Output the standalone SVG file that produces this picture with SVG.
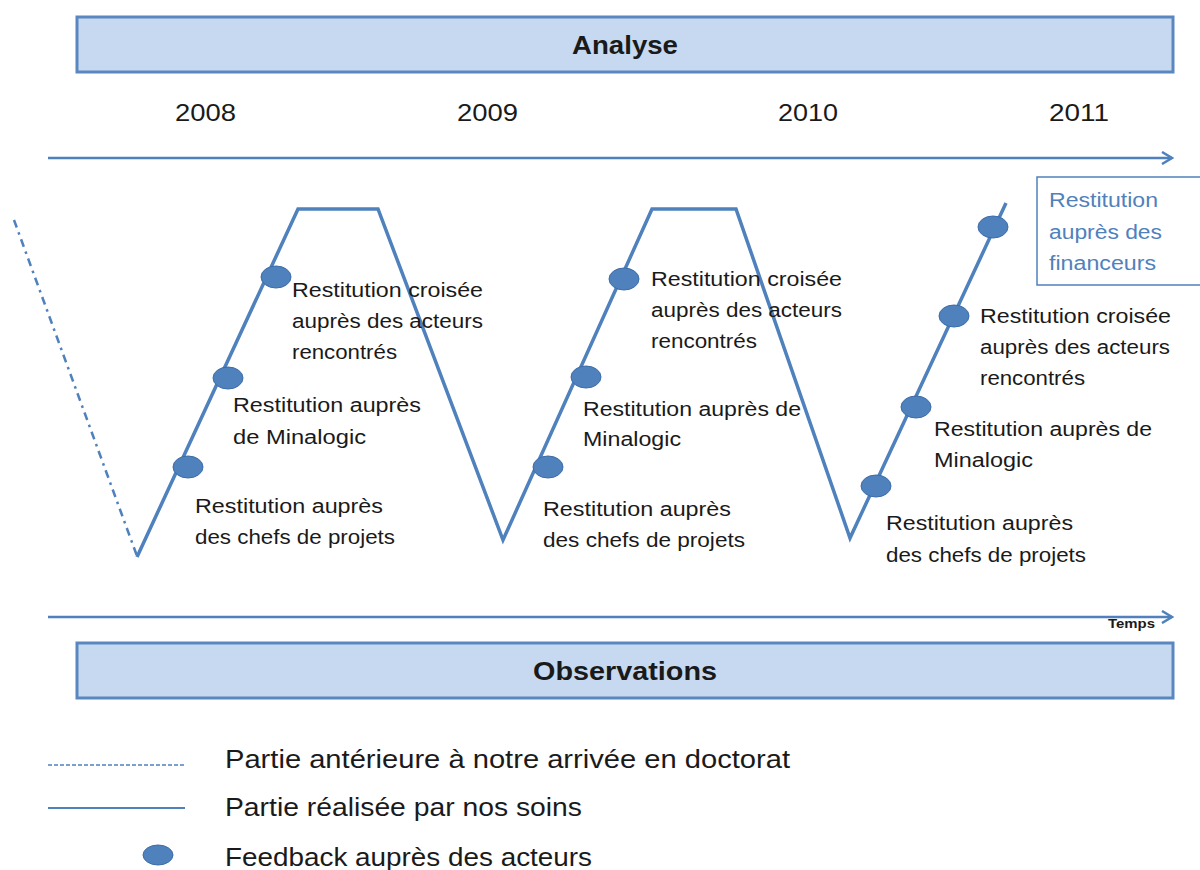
<svg xmlns="http://www.w3.org/2000/svg" width="1200" height="870" viewBox="0 0 1200 870">
<defs>
<style>
.band{fill:#c6d9f0;stroke:#5b87c0;stroke-width:3}
.title{font-family:"Liberation Sans",Arial,sans-serif;font-weight:bold;font-size:26px;fill:#1a1a1a}
.year{font-family:"Liberation Sans",Arial,sans-serif;font-size:23px;fill:#1a1a1a}
.lbl{font-family:"Liberation Sans",Arial,sans-serif;font-size:20px;fill:#1a1a1a}
.blue{font-family:"Liberation Sans",Arial,sans-serif;font-size:20px;fill:#4f81bd}
.leg{font-family:"Liberation Sans",Arial,sans-serif;font-size:25px;fill:#1a1a1a}
.axis{stroke:#4f81bd;stroke-width:2.5;fill:none}
.path{stroke:#4f81bd;stroke-width:3.5;fill:none;stroke-linejoin:miter}
.dot{fill:#4f81bd;stroke:#3c6ca8;stroke-width:1}
</style>
<marker id="arr" markerWidth="14" markerHeight="14" refX="12" refY="7" orient="auto" markerUnits="userSpaceOnUse">
<path d="M2,1 L12,7 L2,13" fill="none" stroke="#4f81bd" stroke-width="2.5"/>
</marker>
</defs>
<rect width="1200" height="870" fill="#ffffff"/>

<g id="analyse">
<rect class="band" x="77" y="17" width="1096" height="55"/>
<text class="title" x="572" y="54" textLength="106" lengthAdjust="spacingAndGlyphs">Analyse</text>
</g>

<g id="years">
<text class="year" x="175" y="121" textLength="61" lengthAdjust="spacingAndGlyphs">2008</text>
<text class="year" x="457" y="121" textLength="61" lengthAdjust="spacingAndGlyphs">2009</text>
<text class="year" x="778" y="121" textLength="60" lengthAdjust="spacingAndGlyphs">2010</text>
<text class="year" x="1049" y="121" textLength="60" lengthAdjust="spacingAndGlyphs">2011</text>
</g>

<g id="connectors">
<line class="axis" x1="48" y1="158" x2="1172" y2="158" marker-end="url(#arr)"/>
<line class="axis" x1="48" y1="617" x2="1172" y2="617" marker-end="url(#arr)"/>
<line x1="14" y1="220" x2="137" y2="556" stroke="#4f81bd" stroke-width="2.5" stroke-dasharray="8 5 2.5 5"/>
<polyline class="path" points="137,557 298,209 378,209 503,540 652,209 736,209 850,538 1006,203"/>
</g>

<g id="dots">
<ellipse class="dot" cx="188" cy="467" rx="15" ry="11"/>
<ellipse class="dot" cx="228" cy="378" rx="15" ry="11"/>
<ellipse class="dot" cx="276" cy="277" rx="15" ry="11"/>
<ellipse class="dot" cx="548" cy="467" rx="15" ry="11"/>
<ellipse class="dot" cx="586" cy="377" rx="15" ry="11"/>
<ellipse class="dot" cx="624" cy="279" rx="15" ry="11"/>
<ellipse class="dot" cx="876" cy="486" rx="15" ry="11"/>
<ellipse class="dot" cx="916" cy="407" rx="15" ry="11"/>
<ellipse class="dot" cx="954" cy="316" rx="15" ry="11"/>
<ellipse class="dot" cx="993" cy="227" rx="15" ry="11"/>
</g>

<g id="labels-2008">
<text class="lbl" x="292" y="297" textLength="191" lengthAdjust="spacingAndGlyphs">Restitution  croisée</text>
<text class="lbl" x="292" y="328" textLength="191" lengthAdjust="spacingAndGlyphs">auprès des acteurs</text>
<text class="lbl" x="292" y="359" textLength="105" lengthAdjust="spacingAndGlyphs">rencontrés</text>
<text class="lbl" x="233" y="412" textLength="188" lengthAdjust="spacingAndGlyphs">Restitution  auprès</text>
<text class="lbl" x="233" y="444" textLength="133" lengthAdjust="spacingAndGlyphs">de  Minalogic</text>
<text class="lbl" x="195" y="513" textLength="188" lengthAdjust="spacingAndGlyphs">Restitution  auprès</text>
<text class="lbl" x="195" y="544" textLength="200" lengthAdjust="spacingAndGlyphs">des chefs  de projets</text>
</g>

<g id="labels-2009">
<text class="lbl" x="651" y="286" textLength="191" lengthAdjust="spacingAndGlyphs">Restitution  croisée</text>
<text class="lbl" x="651" y="317" textLength="191" lengthAdjust="spacingAndGlyphs">auprès des acteurs</text>
<text class="lbl" x="651" y="348" textLength="106" lengthAdjust="spacingAndGlyphs">rencontrés</text>
<text class="lbl" x="583" y="416" textLength="218" lengthAdjust="spacingAndGlyphs">Restitution  auprès de</text>
<text class="lbl" x="583" y="446" textLength="98" lengthAdjust="spacingAndGlyphs">Minalogic</text>
<text class="lbl" x="543" y="516" textLength="188" lengthAdjust="spacingAndGlyphs">Restitution  auprès</text>
<text class="lbl" x="543" y="547" textLength="202" lengthAdjust="spacingAndGlyphs">des chefs  de projets</text>
</g>

<g id="labels-2010">
<text class="lbl" x="980" y="323" textLength="191" lengthAdjust="spacingAndGlyphs">Restitution  croisée</text>
<text class="lbl" x="980" y="354" textLength="190" lengthAdjust="spacingAndGlyphs">auprès des acteurs</text>
<text class="lbl" x="980" y="385" textLength="105" lengthAdjust="spacingAndGlyphs">rencontrés</text>
<text class="lbl" x="934" y="436" textLength="218" lengthAdjust="spacingAndGlyphs">Restitution  auprès de</text>
<text class="lbl" x="934" y="467" textLength="99" lengthAdjust="spacingAndGlyphs">Minalogic</text>
<text class="lbl" x="886" y="530" textLength="187" lengthAdjust="spacingAndGlyphs">Restitution  auprès</text>
<text class="lbl" x="886" y="562" textLength="200" lengthAdjust="spacingAndGlyphs">des chefs  de projets</text>
</g>

<g id="financeurs">
<rect x="1037" y="177" width="170" height="108" fill="#ffffff" stroke="#4f81bd" stroke-width="1.5"/>
<text class="blue" x="1049" y="207" textLength="109" lengthAdjust="spacingAndGlyphs">Restitution</text>
<text class="blue" x="1049" y="239" textLength="113" lengthAdjust="spacingAndGlyphs">auprès des</text>
<text class="blue" x="1049" y="270" textLength="107" lengthAdjust="spacingAndGlyphs">financeurs</text>
</g>

<g id="temps">
<text x="1108" y="628" font-family="'Liberation Sans',Arial,sans-serif" font-size="13" font-weight="bold" fill="#1a1a1a" textLength="47" lengthAdjust="spacingAndGlyphs">Temps</text>
</g>

<g id="observations">
<rect class="band" x="77" y="643" width="1096" height="55"/>
<text class="title" x="533" y="680" textLength="184" lengthAdjust="spacingAndGlyphs">Observations</text>
</g>

<g id="legend">
<line x1="48" y1="765" x2="185" y2="765" stroke="#4f81bd" stroke-width="1.5" stroke-dasharray="4 2"/>
<line x1="48" y1="808" x2="185" y2="808" stroke="#4f81bd" stroke-width="2"/>
<ellipse class="dot" cx="158" cy="855" rx="15" ry="10"/>
<text class="leg" x="225" y="768" textLength="565" lengthAdjust="spacingAndGlyphs">Partie antérieure à notre arrivée en doctorat</text>
<text class="leg" x="225" y="816" textLength="357" lengthAdjust="spacingAndGlyphs">Partie réalisée par nos soins</text>
<text class="leg" x="225" y="866" textLength="367" lengthAdjust="spacingAndGlyphs">Feedback auprès des acteurs</text>
</g>
</svg>
